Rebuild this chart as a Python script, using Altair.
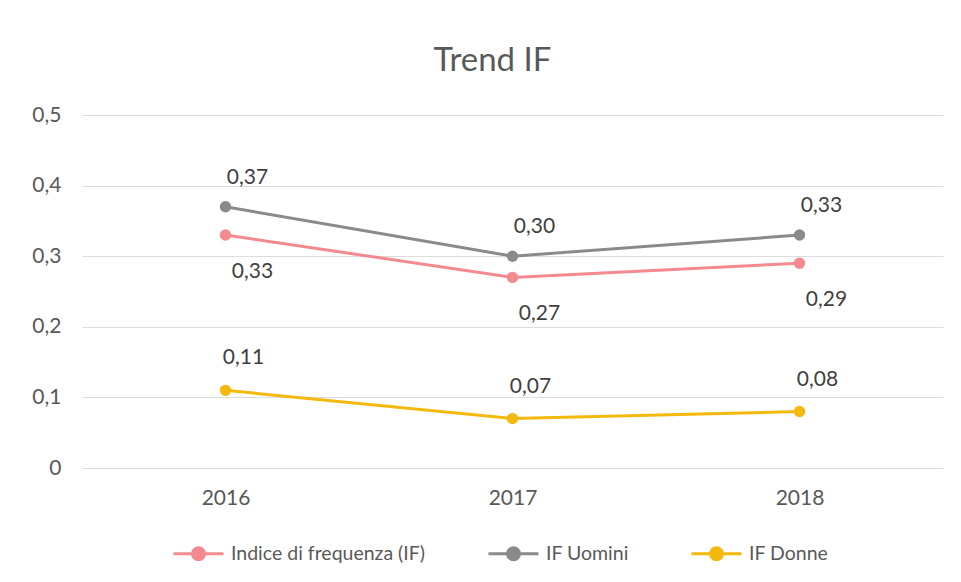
import altair as alt
import pandas as pd

years = ["2016", "2017", "2018"]
series = ["Indice di frequenza (IF)", "IF Uomini", "IF Donne"]
if_totale = [0.33, 0.27, 0.29]
if_uomini = [0.37, 0.30, 0.33]
if_donne = [0.11, 0.07, 0.08]
colors = ["#F28A8F", "#8A8A8A", "#F5B80C"]
y_ticks = [0, 0.1, 0.2, 0.3, 0.4, 0.5]

rows = []
for name, vals in zip(series, [if_totale, if_uomini, if_donne]):
    for yr, v in zip(years, vals):
        rows.append({"Anno": yr, "Serie": name, "Valore": v})
df = pd.DataFrame(rows)

FONT = "Lato"
color_scale = alt.Scale(domain=series, range=colors)

base = alt.Chart(df).encode(
    x=alt.X("Anno:N", sort=years, title=None,
            scale=alt.Scale(paddingInner=0, paddingOuter=0.5),
            axis=alt.Axis(labelAngle=0, ticks=False, domain=False, grid=False,
                          labelFontSize=21, labelColor="#595959", labelFont=FONT,
                          labelPadding=19)),
    y=alt.Y("Valore:Q", title=None,
            scale=alt.Scale(domain=[0, 0.5], nice=False),
            axis=alt.Axis(values=y_ticks, ticks=False, domain=False,
                          gridColor="#DCDCDC", gridWidth=1.2,
                          labelFontSize=21, labelColor="#595959", labelFont=FONT,
                          labelPadding=21,
                          labelExpr="replace(format(datum.value, '.1~f'), '.', ',')")),
)

legend_path = "M-1,0L1,0M-0.24,0A0.24,0.24,0,1,1,0.24,0A0.24,0.24,0,1,1,-0.24,0Z"
legend_props = dict(title=None, orient="none", direction="horizontal",
                    legendX=90, legendY=412,
                    symbolType=legend_path, symbolSize=2500,
                    symbolStrokeWidth=3, labelLimit=400,
                    labelFontSize=19.5, labelColor="#595959",
                    labelFont=FONT, labelOffset=6,
                    columnPadding=56)

lines = base.mark_line(strokeWidth=3).encode(
    stroke=alt.Stroke("Serie:N", scale=color_scale, sort=series,
                      legend=alt.Legend(**legend_props))
)

points = base.mark_point(filled=True, size=130, opacity=1).encode(
    fill=alt.Fill("Serie:N", scale=color_scale, sort=series,
                  legend=alt.Legend(**legend_props)),
)

label_base = base.transform_calculate(
    etichetta="replace(format(datum.Valore, '.2f'), '.', ',')"
)

def labels(name, dx, dy):
    return label_base.transform_filter(alt.datum.Serie == name).mark_text(
        dx=dx, dy=dy, fontSize=21, font=FONT, color="#404040"
    ).encode(text="etichetta:N")

lab_tot = labels(series[0], 27, 37)
lab_u = labels(series[1], 22, -29)
lab_d = labels(series[2], 18, -32)

chart = alt.layer(lines, points, lab_tot, lab_u, lab_d).properties(
    width=861,
    height=353,
    background="white",
    autosize=alt.AutoSizeParams(type="none"),
    padding={"left": 74, "top": 107, "right": 10, "bottom": 100},
    title=alt.TitleParams("Trend IF", fontSize=33, font=FONT, fontWeight="normal",
                          color="#595959", anchor="middle", dx=-20, offset=26),
).configure_view(stroke="transparent", strokeWidth=0)

chart.save("out.html", embed_options={"renderer": "svg", "actions": False})
